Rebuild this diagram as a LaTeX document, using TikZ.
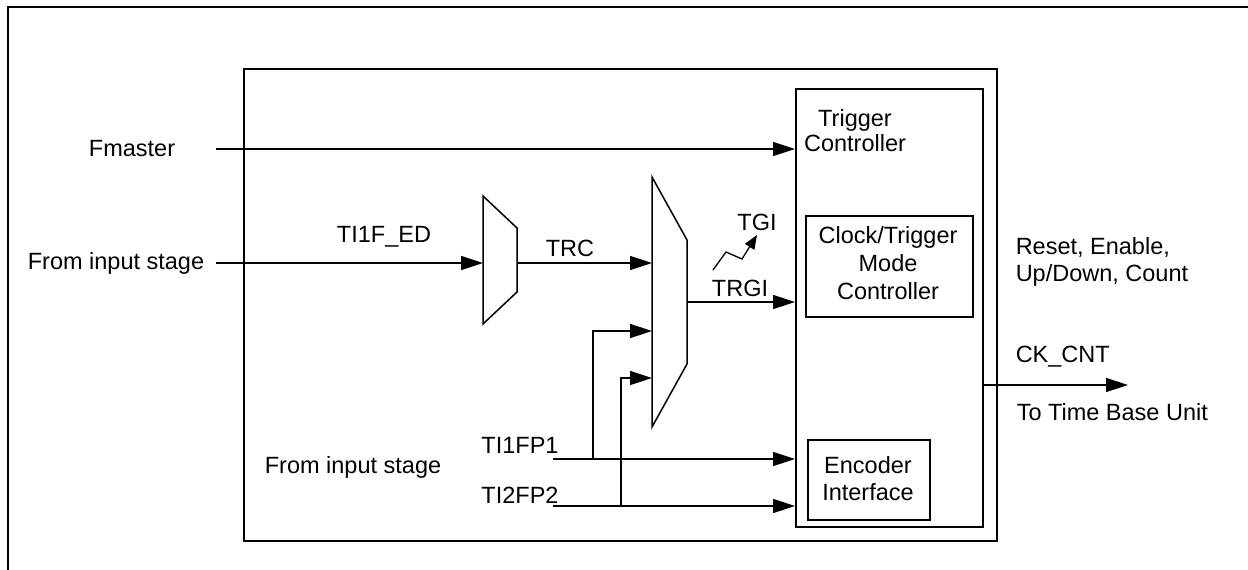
\documentclass[tikz,border=0pt]{standalone}
\usepackage{fontspec}
\setmainfont{Liberation Sans}
\usetikzlibrary{arrows.meta}
\begin{document}
\begin{tikzpicture}[x=1pt,y=-1pt,line width=1.5pt,
  lbl/.style={inner sep=0pt,font=\fontsize{23.5}{27}\selectfont},
  arr/.style={-{Triangle[length=22pt,width=14pt]}},
  sarr/.style={-{Triangle[length=14pt,width=11pt]}},
  box/.style={draw,inner sep=0pt,anchor=north west}]
\useasboundingbox (0,0) rectangle (1248,570);
% outer frame (cropped)
\draw (8,575) -- (8,7) -- (1253,7);
% main box
\node[box,minimum width=753pt,minimum height=472pt] (main) at (243,68) {};
% trigger controller
\node[box,minimum width=187pt,minimum height=438pt] (trig) at (795,88) {};
\node[lbl,align=center,font=\fontsize{23.5}{25}\selectfont] (trigtxt) at (855,131) {Trigger\\Controller};
\node[box,minimum width=167pt,minimum height=101pt] (clk) at (805,215) {};
\node[lbl,align=center,font=\fontsize{23.5}{28}\selectfont] (clktxt) at (888,263) {Clock/Trigger\\Mode\\Controller};
\node[box,minimum width=122pt,minimum height=80pt] (enc) at (807,439) {};
\node[lbl,align=center] (enctxt) at (868,479) {Encoder\\Interface};
% muxes
\coordinate (m1a) at (483,196); \coordinate (m1b) at (517,228);
\coordinate (m1c) at (517,292); \coordinate (m1d) at (483,324);
\draw (m1a) -- (m1b) -- (m1c) -- (m1d) -- cycle;
\coordinate (m2a) at (652,177); \coordinate (m2b) at (687,240);
\coordinate (m2c) at (687,364); \coordinate (m2d) at (652,427);
\draw (m2a) -- (m2b) -- (m2c) -- (m2d) -- cycle;
% labels
\node[lbl] (fmaster) at (132,149) {Fmaster};
\node[lbl] (fis1) at (116,263) {From input stage};
\node[lbl] (ti1fed) at (384,237) {TI1F\_ED};
\node[lbl] (trc) at (570,248) {TRC};
\node[lbl] (tgi) at (757,222) {TGI};
\node[lbl] (trgi) at (740,288) {TRGI};
\node[lbl] (ti1fp1) at (520,445) {TI1FP1};
\node[lbl] (ti2fp2) at (520,495) {TI2FP2};
\node[lbl] (fis2) at (353,467) {From input stage};
\node[lbl,align=left,anchor=west] (rst) at (1015,262) {Reset, Enable,\\Up/Down, Count};
\node[lbl,anchor=west] (ckcnt) at (1015,357) {CK\_CNT};
\node[lbl,anchor=west] (tbu) at (1016,412) {To Time Base Unit};
% connectors
\coordinate (fmS) at (216,149);
\draw[arr] (fmS) -- (fmS -| trig.west);
\coordinate (inS) at (216,263);
\coordinate (m1in) at (483,263);
\draw[arr] (inS) -- (m1in);
\coordinate (m1out) at (517,263);
\coordinate (m2in1) at (652,263);
\draw[arr] (m1out) -- (m2in1);
\coordinate (m2out) at (687,302);
\draw[arr] (m2out) -- (m2out -| trig.west);
\coordinate (p1S) at (553,459);
\coordinate (p2S) at (553,506);
\draw[arr] (p1S) -- (p1S -| trig.west);
\draw[arr] (p2S) -- (p2S -| trig.west);
\coordinate (b1) at (593,459);
\coordinate (m2in2) at (652,331);
\draw[arr] (b1) |- (m2in2);
\coordinate (b2) at (621,506);
\coordinate (m2in3) at (652,378);
\draw[arr] (b2) |- (m2in3);
\coordinate (ckS) at (trig.east |- 0,385);
\coordinate (ckE) at (1128,385);
\draw[arr] (ckS) -- (ckE);
% TGI zigzag
\coordinate (z0) at (713,270); \coordinate (z1) at (726,252);
\coordinate (z2) at (742,259); \coordinate (z3) at (757,235);
\draw[sarr,line width=1.3pt] (z0) -- (z1) -- (z2) -- (z3);
\end{tikzpicture}
\end{document}
